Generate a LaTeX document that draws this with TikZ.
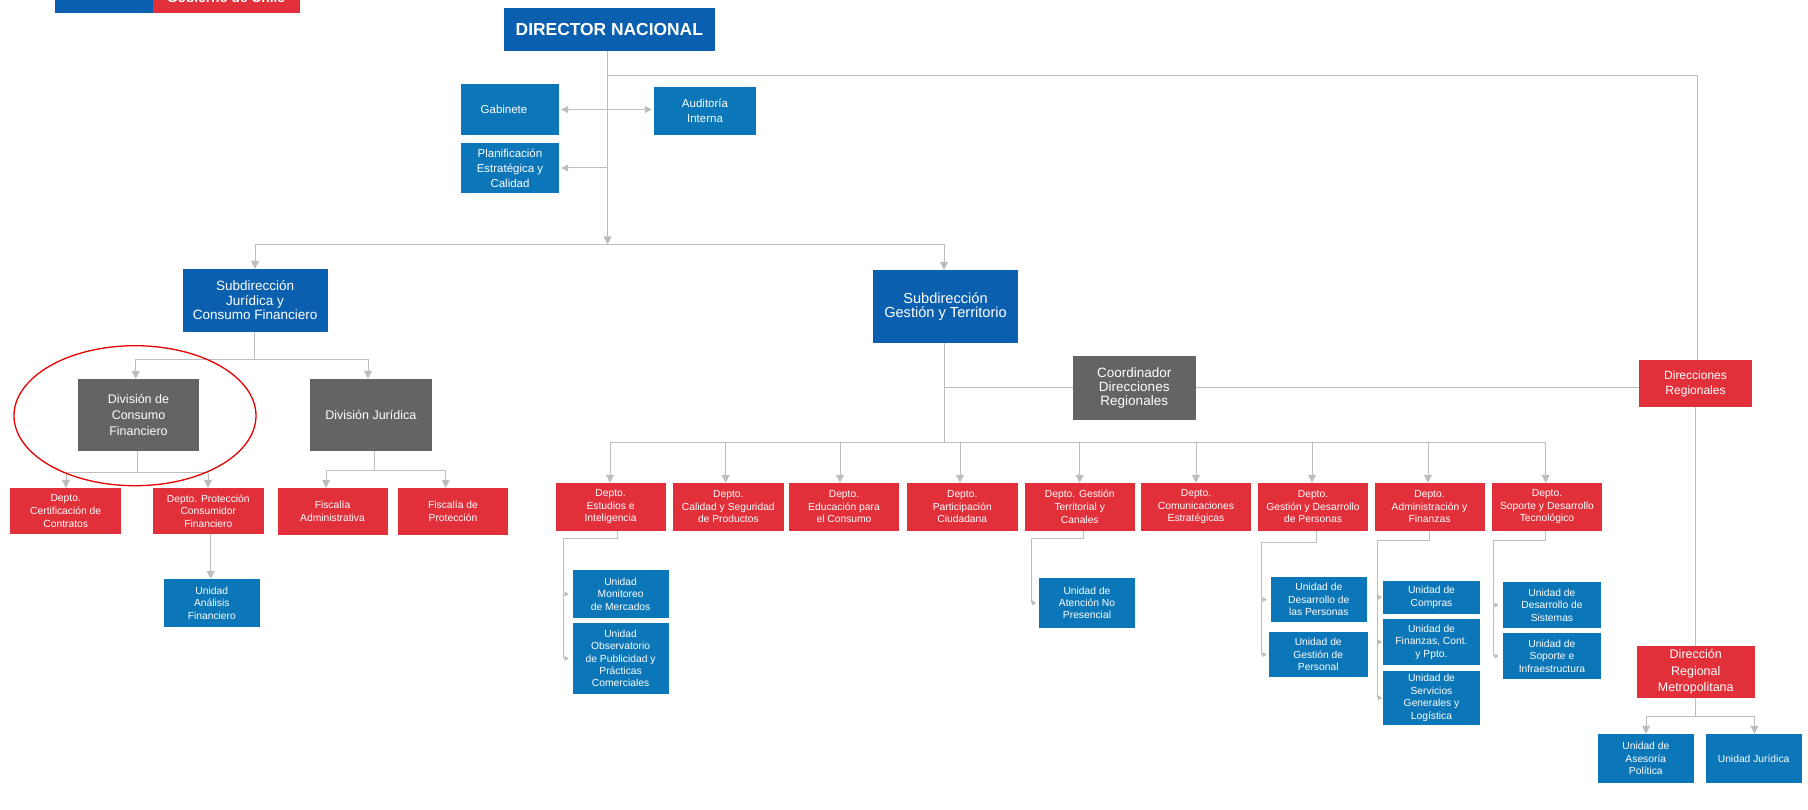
\documentclass[tikz,border=0pt]{standalone}
\usepackage{fontspec}
\setmainfont{Liberation Sans}
\usetikzlibrary{arrows.meta,shapes.geometric}
\definecolor{deepblue}{HTML}{0A5FAE}
\definecolor{unitblue}{HTML}{0B76B8}
\definecolor{divgrey}{HTML}{636466}
\definecolor{deptred}{HTML}{E2303A}
\definecolor{linegrey}{HTML}{BDBDBD}
\definecolor{hlred}{HTML}{E60000}
\tikzset{
  box/.style={inner sep=0pt,align=center,text=white,draw=none},
  dirbox/.style={box,fill=deepblue,font=\fontsize{17.4}{19}\selectfont\bfseries},
  subbox/.style={box,fill=deepblue,font=\fontsize{13.5}{14.5}\selectfont},
  widesubbox/.style={box,fill=deepblue,font=\fontsize{14.6}{14.5}\selectfont},
  staffbox/.style={box,fill=unitblue,font=\fontsize{11.5}{15}\selectfont},
  divbox/.style={box,fill=divgrey,font=\fontsize{12.5}{16}\selectfont},
  coordbox/.style={box,fill=divgrey,font=\fontsize{13.5}{14}\selectfont},
  deptbox/.style={box,fill=deptred,font=\fontsize{10.3}{12.6}\selectfont},
  regbox/.style={box,fill=deptred,font=\fontsize{12}{15}\selectfont},
  metrobox/.style={box,fill=deptred,font=\fontsize{12.5}{16.5}\selectfont},
  unitbox/.style={box,fill=unitblue,font=\fontsize{10.3}{12.4}\selectfont},
  ln/.style={draw=linegrey,line width=1pt},
  arr/.style={ln,-{Triangle[width=8pt,length=8pt,fill=linegrey]}},
  sidearr/.style={ln,-{Triangle[width=5pt,length=4pt,fill=linegrey]}},
  dblarr/.style={ln,{Triangle[width=7pt,length=7pt,fill=linegrey]}-{Triangle[width=7pt,length=7pt,fill=linegrey]},shorten <=2pt,shorten >=2pt}
}
\newcommand\bx[7]{\node[#2,minimum width={(#5-#3)*1pt},minimum height={(#6-#4)*1pt}] (#1) at ({(#3+#5)/2},{(#4+#6)/2}) {#7};}
\begin{document}
\begin{tikzpicture}[x=1pt,y=-1pt]
\useasboundingbox (0,0) rectangle (1808,810);
\fill[white] (0,0) rectangle (1808,810);
% logo
\fill[deepblue] (55,-5) rectangle (153,12.7);
\fill[deptred] (153,-5) rectangle (299.5,12.7);
\node[anchor=base,text=white,inner sep=0pt,font=\fontsize{13.7}{15}\selectfont\bfseries] (logo) at (226,3) {Gobierno de Chile};
% top
\bx{dir}{dirbox}{503.6}{8}{715}{51}{DIRECTOR NACIONAL}
\bx{gab}{staffbox}{461}{84}{559}{135}{\hspace*{-12pt}Gabinete}
\bx{aud}{staffbox}{654}{87}{756}{135}{Auditoría\\Interna}
\bx{plan}{staffbox}{461}{143}{559}{193}{Planificación\\Estratégica y\\Calidad}
\bx{subj}{subbox}{182.6}{269}{327.5}{332}{Subdirección\\Jurídica y\\Consumo Financiero}
\bx{subg}{widesubbox}{873}{270}{1018}{343}{Subdirección\\Gestión y Territorio}
\bx{coord}{coordbox}{1073}{356}{1195.5}{420}{Coordinador\\Direcciones\\Regionales}
\bx{dreg}{regbox}{1639}{360}{1752}{407}{Direcciones\\Regionales}
% left branch
\bx{divc}{divbox}{78}{379}{199}{451}{División de\\Consumo\\Financiero}
\bx{divj}{divbox}{309.6}{379}{432}{451}{División Jurídica}
\bx{cert}{deptbox}{10}{488}{121.4}{534}{Depto.\\Certificación de\\Contratos}
\bx{prot}{deptbox}{153}{488}{263.6}{534}{Depto. Protección\\Consumidor\\Financiero}
\bx{fadm}{deptbox}{277.5}{488}{387.5}{535}{Fiscalía\\Administrativa}
\bx{fpro}{deptbox}{398}{488}{508}{535}{Fiscalía de\\Protección}
\bx{uana}{unitbox}{163.6}{579}{260}{627}{Unidad\\Análisis\\Financiero}
% departments
\bx{dest}{deptbox}{555.5}{483}{665.7}{530.7}{Depto.\\Estudios e\\Inteligencia}
\bx{dcal}{deptbox}{673}{483}{783.7}{530.7}{Depto.\\Calidad y Seguridad\\de Productos}
\bx{dedu}{deptbox}{789}{483}{899}{530.7}{Depto.\\Educación para\\el Consumo}
\bx{dpar}{deptbox}{907}{483}{1017.5}{530.7}{Depto.\\Participación\\Ciudadana}
\bx{dter}{deptbox}{1024.5}{483}{1135}{530.7}{Depto. Gestión\\Territorial y\\Canales}
\bx{dcom}{deptbox}{1141}{483}{1251}{530.7}{Depto.\\Comunicaciones\\Estratégicas}
\bx{dges}{deptbox}{1258}{483}{1368}{530.7}{Depto.\\Gestión y Desarrollo\\de Personas}
\bx{dadm}{deptbox}{1374.5}{483}{1484.5}{530.7}{Depto.\\Administración y\\Finanzas}
\bx{dsop}{deptbox}{1492}{483}{1602}{530.7}{Depto.\\Soporte y Desarrollo\\Tecnológico}
% units
\bx{umon}{unitbox}{572.6}{570}{668.6}{618}{Unidad\\Monitoreo\\de Mercados}
\bx{uobs}{unitbox}{572.6}{622.7}{668.6}{694}{Unidad\\Observatorio\\de Publicidad y\\Prácticas\\Comerciales}
\bx{uate}{unitbox}{1039}{577.7}{1135}{628}{Unidad de\\Atención No\\Presencial}
\bx{udes}{unitbox}{1270.8}{576.7}{1366.8}{622.3}{Unidad de\\Desarrollo de\\las Personas}
\bx{uper}{unitbox}{1269}{631.7}{1367.5}{677.3}{Unidad de\\Gestión de\\Personal}
\bx{ucom}{unitbox}{1383}{581}{1480}{613.7}{Unidad de\\Compras}
\bx{ufin}{unitbox}{1383}{619}{1480}{665}{Unidad de\\Finanzas, Cont.\\y Ppto.}
\bx{user}{unitbox}{1383}{670.7}{1480}{725}{Unidad de\\Servicios\\Generales y\\Logística}
\bx{usis}{unitbox}{1503.4}{582}{1600.5}{628}{Unidad de\\Desarrollo de\\Sistemas}
\bx{uinf}{unitbox}{1503.4}{633}{1600.5}{679}{Unidad de\\Soporte e\\Infraestructura}
\bx{metro}{metrobox}{1637}{646}{1754.5}{698}{Dirección\\Regional\\Metropolitana}
\bx{uase}{unitbox}{1598}{734}{1693.6}{782.7}{Unidad de\\Asesoría\\Política}
\bx{ujur}{unitbox}{1705.6}{734}{1801.6}{782.7}{Unidad Jurídica}
% trunk from director
\coordinate (tk) at (607.6,244.3);
\coordinate (tkr) at (607.6,76);
\coordinate (bj) at (255,244.3);
\coordinate (bg) at (944,244.3);
\draw[arr] (tk |- dir.south) -- (tk);
\draw[ln] (bj) -- (bg);
\draw[arr] (bj) -- (bj |- subj.north);
\draw[arr] (bg) -- (bg |- subg.north);
\draw[dblarr] (gab.east) -- (gab.east -| aud.west);
\draw[ln,-{Triangle[width=7pt,length=7pt,fill=linegrey]},shorten >=2pt] (plan.east -| tk) -- (plan.east);
\coordinate (rr) at (1697,76);
\draw[ln] (tkr) -- (rr) -- (rr |- dreg.north);
% gestion trunk and departments bus
\coordinate (gb) at (944,442.7);
\draw[ln] (gb |- subg.south) -- (gb);
\draw[ln] (gb |- coord.west) -- (coord.west);
\draw[ln] (coord.east) -- (dreg.west |- coord.east);
\coordinate (b1) at (610,442.7);
\coordinate (b2) at (725.7,442.7);
\coordinate (b3) at (840,442.7);
\coordinate (b4) at (960,442.7);
\coordinate (b5) at (1079.6,442.7);
\coordinate (b6) at (1196,442.7);
\coordinate (b7) at (1312,442.7);
\coordinate (b8) at (1428,442.7);
\coordinate (b9) at (1545.6,442.7);
\draw[ln] (b1) -- (b9);
\draw[arr] (b1) -- (b1 |- dest.north);
\draw[arr] (b2) -- (b2 |- dcal.north);
\draw[arr] (b3) -- (b3 |- dedu.north);
\draw[arr] (b4) -- (b4 |- dpar.north);
\draw[arr] (b5) -- (b5 |- dter.north);
\draw[arr] (b6) -- (b6 |- dcom.north);
\draw[arr] (b7) -- (b7 |- dges.north);
\draw[arr] (b8) -- (b8 |- dadm.north);
\draw[arr] (b9) -- (b9 |- dsop.north);
% subdir juridica
\coordinate (sj) at (254.3,359.3);
\coordinate (sjl) at (135.7,359.3);
\coordinate (sjr) at (368,359.3);
\draw[ln] (sj |- subj.south) -- (sj);
\draw[ln] (sjl) -- (sjr);
\draw[arr] (sjl) -- (sjl |- divc.north);
\draw[arr] (sjr) -- (sjr |- divj.north);
% division consumo
\coordinate (dc) at (137.5,472.7);
\coordinate (dcl) at (66,472.7);
\coordinate (dcr) at (208,472.7);
\draw[ln] (dc |- divc.south) -- (dc);
\draw[ln] (dcl) -- (dcr);
\draw[arr] (dcl) -- (dcl |- cert.north);
\draw[arr] (dcr) -- (dcr |- prot.north);
\coordinate (pa) at (210.7,535);
\draw[arr] (pa |- prot.south) -- (pa |- uana.north);
% division juridica
\coordinate (dj) at (374,470);
\coordinate (djl) at (326,470);
\coordinate (djr) at (445.7,470);
\draw[ln] (dj |- divj.south) -- (dj);
\draw[ln] (djl) -- (djr);
\draw[arr] (djl) -- (djl |- fadm.north);
\draw[arr] (djr) -- (djr |- fpro.north);
% unit rails
\coordinate (e1) at (617.5,538);
\coordinate (e2) at (563.7,538);
\draw[ln] (e1 |- dest.south) -- (e1) -- (e2) -- (e2 |- uobs.west);
\draw[sidearr] (e2 |- umon.west) -- +(5,0);
\draw[sidearr] (e2 |- uobs.west) -- +(5,0);
\coordinate (t1) at (1083.7,538);
\coordinate (t2) at (1031,538);
\draw[ln] (t1 |- dter.south) -- (t1) -- (t2) -- (t2 |- uate.west);
\draw[sidearr] (t2 |- uate.west) -- +(5,0);
\coordinate (g1) at (1316,542.7);
\coordinate (g2) at (1261.7,542.7);
\draw[ln] (g1 |- dges.south) -- (g1) -- (g2) -- (g2 |- uper.west);
\draw[sidearr] (g2 |- udes.west) -- +(5,0);
\draw[sidearr] (g2 |- uper.west) -- +(5,0);
\coordinate (a1) at (1429.5,540.7);
\coordinate (a2) at (1377,540.7);
\draw[ln] (a1 |- dadm.south) -- (a1) -- (a2) -- (a2 |- user.west);
\draw[sidearr] (a2 |- ucom.west) -- +(5,0);
\draw[sidearr] (a2 |- ufin.west) -- +(5,0);
\draw[sidearr] (a2 |- user.west) -- +(5,0);
\coordinate (s1) at (1545.4,540.7);
\coordinate (s2) at (1493.6,540.7);
\draw[ln] (s1 |- dsop.south) -- (s1) -- (s2) -- (s2 |- uinf.west);
\draw[sidearr] (s2 |- usis.west) -- +(5,0);
\draw[sidearr] (s2 |- uinf.west) -- +(5,0);
% regional
\coordinate (m0) at (1695.5,716);
\coordinate (ml) at (1646,716);
\coordinate (mr) at (1754.5,716);
\draw[ln] (m0 |- dreg.south) -- (m0 |- metro.north);
\draw[ln] (m0 |- metro.south) -- (m0);
\draw[ln] (ml) -- (mr);
\draw[arr] (ml) -- (ml |- uase.north);
\draw[arr] (mr) -- (mr |- ujur.north);
% highlight
\node[draw=hlred,line width=1.3pt,ellipse,minimum width=242pt,minimum height=140pt,inner sep=0pt] (hl) at (135,415.7) {};
\end{tikzpicture}
\end{document}
